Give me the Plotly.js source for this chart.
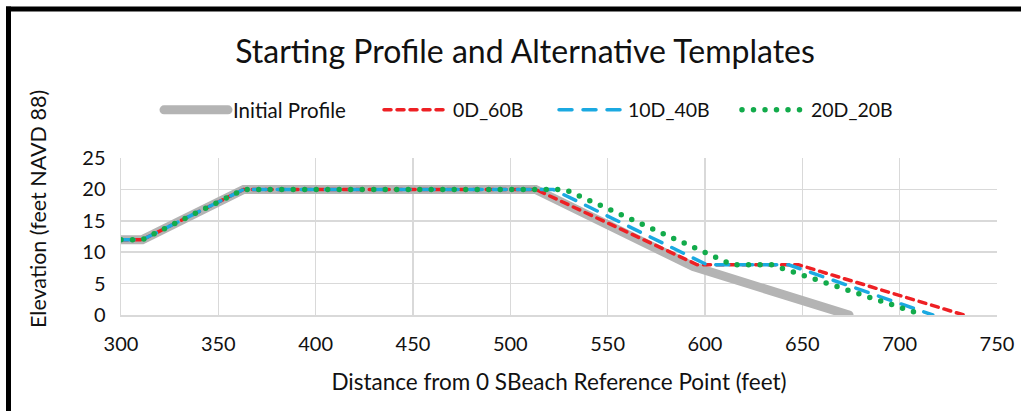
<!DOCTYPE html>
<html>
<head>
<meta charset="utf-8">
<script src="https://cdn.plot.ly/plotly-3.0.1.min.js"></script>
<style>
  html, body { margin: 0; padding: 0; background: #fff; }
  #chart { width: 1021px; height: 411px; }
  .js-line { stroke-linecap: round; }
</style>
</head>
<body>
<div id="chart"></div>
<script>
// Data
const initialX = [300, 311, 363, 513, 594, 674];
const initialY = [12, 12, 20, 20, 7.7, 0];

const d0X = [300, 311, 363, 513, 596, 648, 733];
const d0Y = [12, 12, 20, 20, 8, 8, 0];

const d10X = [300, 311, 363, 522, 601, 643, 717];
const d10Y = [12, 12, 20, 20, 8, 8, 0];

const d20X = [300, 311, 363, 528, 614, 634, 712];
const d20Y = [12, 12, 20, 20, 8, 8, 0];

const seriesNames = ['Initial Profile', '0D_60B', '10D_40B', '20D_20B'];
const xTicks = [300, 350, 400, 450, 500, 550, 600, 650, 700, 750];
const yTicks = [0, 5, 10, 15, 20, 25];

const FONT = 'Lato, Carlito, Calibri, sans-serif';

const traces = [
  { x: initialX, y: initialY, name: seriesNames[0], mode: 'lines', legend: 'legend',
    line: { color: '#B4B4B4', width: 9 } },
  { x: d0X, y: d0Y, name: seriesNames[1], mode: 'lines', legend: 'legend2',
    line: { color: '#EE2024', width: 3.5, dash: '7px,6px' } },
  { x: d10X, y: d10Y, name: seriesNames[2], mode: 'lines', legend: 'legend3',
    line: { color: '#1BA9E1', width: 3.5, dash: '13px,11px' } },
  { x: d20X, y: d20Y, name: seriesNames[3], mode: 'lines', legend: 'legend4',
    line: { color: '#12AB4B', width: 5.5, dash: '0px,11.5px' } }
];

const W = 876, H = 157;
const px = v => (v - 121) / W;
const py = v => (315 - v) / H;

function legendAt(lineStart, size) {
  return { orientation: 'h', x: px(lineStart - 7), xanchor: 'left', y: py(110), yanchor: 'middle',
    font: { family: FONT, size: size || 20.5, color: '#111' }, itemwidth: 64,
    bgcolor: 'rgba(0,0,0,0)', borderwidth: 0 };
}

const layout = {
  width: 1021, height: 411,
  margin: { l: 121, r: 24, t: 158, b: 96 },
  paper_bgcolor: '#ffffff', plot_bgcolor: '#ffffff',
  font: { family: FONT, color: '#111' },
  title: { text: 'Starting Profile and Alternative Templates',
    font: { family: FONT, size: 32, color: '#111' },
    x: 525 / 1021, xanchor: 'center', xref: 'container',
    y: 1 - 52 / 411, yanchor: 'middle', yref: 'container' },
  showlegend: true,
  legend: legendAt(166),
  legend2: legendAt(386, 19.5),
  legend3: legendAt(561, 19.5),
  legend4: legendAt(744, 19.5),
  xaxis: { range: [300, 750], tickvals: xTicks, ticktext: xTicks.map(String),
    showgrid: true, gridcolor: '#D9D9D9', gridwidth: 1.5, zeroline: false,
    showline: true, linecolor: '#D9D9D9', linewidth: 1.5, ticks: '',
    tickfont: { family: FONT, size: 20, color: '#111' }, ticklabelstandoff: 10,
    title: { text: 'Distance from 0 SBeach Reference Point (feet)',
      font: { family: FONT, size: 22.5, color: '#111' }, standoff: 20 },
    fixedrange: true },
  yaxis: { range: [0, 25], tickvals: yTicks, ticktext: yTicks.map(String),
    showgrid: true, gridcolor: '#D9D9D9', gridwidth: 1.5, zeroline: false,
    showline: true, linecolor: '#D9D9D9', linewidth: 1.5, ticks: '',
    tickfont: { family: FONT, size: 20, color: '#111' }, ticklabelstandoff: 10,
    fixedrange: true },
  annotations: [
    { text: 'Elevation (feet NAVD 88)', textangle: -90, showarrow: false,
      xref: 'paper', yref: 'paper', x: px(38), y: py(209), xanchor: 'center', yanchor: 'middle',
      font: { family: FONT, size: 21.5, color: '#111' } }
  ],
  shapes: [
    { type: 'line', xref: 'paper', yref: 'paper', x0: px(8.5), x1: px(8.5), y0: py(6.5), y1: py(430),
      line: { color: '#000', width: 5 } },
    { type: 'line', xref: 'paper', yref: 'paper', x0: px(6), x1: px(1040), y0: py(9), y1: py(9),
      line: { color: '#000', width: 5 } }
  ]
};

Plotly.newPlot('chart', traces, layout, { displayModeBar: false, staticPlot: true });
</script>
</body>
</html>
